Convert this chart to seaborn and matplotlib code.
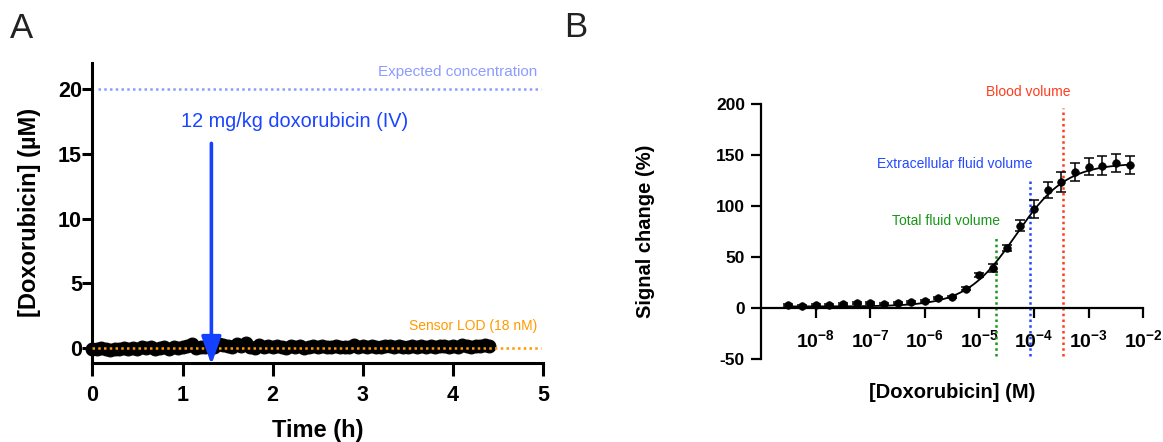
import numpy as np
import matplotlib
matplotlib.use('Agg')
import matplotlib.pyplot as plt
import seaborn as sns

sns.set_style('ticks')
plt.rcParams['font.family'] = ['Liberation Sans', 'DejaVu Sans']
plt.rcParams['axes.unicode_minus'] = False
plt.rcParams['mathtext.fontset'] = 'custom'
plt.rcParams['mathtext.rm'] = 'Liberation Sans'
plt.rcParams['mathtext.bf'] = 'Liberation Sans:bold'
for key in ['text.color', 'axes.labelcolor', 'xtick.color', 'ytick.color', 'axes.edgecolor']:
    plt.rcParams[key] = 'black'

# ---- panel A: in vivo trace ----
time_h = [0.00, 0.05, 0.10, 0.15, 0.20, 0.25, 0.30, 0.35, 0.40, 0.45,
          0.50, 0.55, 0.60, 0.65, 0.70, 0.75, 0.80, 0.85, 0.90, 0.95,
          1.00, 1.05, 1.10, 1.15, 1.20, 1.25, 1.30, 1.35, 1.40, 1.45,
          1.50, 1.55, 1.60, 1.65, 1.70, 1.75, 1.80, 1.85, 1.90, 1.95,
          2.00, 2.05, 2.10, 2.15, 2.20, 2.25, 2.30, 2.35, 2.40, 2.45,
          2.50, 2.55, 2.60, 2.65, 2.70, 2.75, 2.80, 2.85, 2.90, 2.95,
          3.00, 3.05, 3.10, 3.15, 3.20, 3.25, 3.30, 3.35, 3.40, 3.45,
          3.50, 3.55, 3.60, 3.65, 3.70, 3.75, 3.80, 3.85, 3.90, 3.95,
          4.00, 4.05, 4.10, 4.15, 4.20, 4.25, 4.30, 4.35, 4.40]
dox_um = [-0.05, -0.10, 0.02, -0.08, -0.12, -0.04, -0.09, 0.03, -0.06, -0.02,
          -0.07, 0.04, -0.03, 0.08, -0.05, 0.02, 0.06, -0.04, 0.05, 0.01,
          0.07, 0.12, 0.28, 0.03, 0.10, 0.05, 0.15, 0.08, 0.32, 0.22,
          0.12, 0.05, 0.30, 0.18, 0.35, 0.10, 0.02, 0.20, 0.08, 0.14,
          0.05, 0.18, 0.10, 0.03, 0.15, 0.08, 0.12, 0.00, 0.10, 0.16,
          0.06, 0.12, 0.09, 0.04, 0.14, 0.08, 0.11, 0.05, 0.20, 0.09,
          0.13, 0.07, 0.16, 0.10, 0.05, 0.12, 0.18, 0.08, 0.14, 0.10,
          0.06, 0.15, 0.11, 0.19, 0.09, 0.13, 0.07, 0.17, 0.12, 0.10,
          0.16, 0.11, 0.20, 0.14, 0.09, 0.18, 0.13, 0.21, 0.17]
expected_um = 20
lod_um = 0.018
injection_h = 1.32

# ---- panel B: calibration ----
log_conc = [-8.50, -8.25, -8.00, -7.75, -7.50, -7.25, -7.00, -6.75, -6.50,
            -6.25, -6.00, -5.75, -5.50, -5.25, -5.00, -4.75, -4.50, -4.25,
            -4.00, -3.75, -3.50, -3.25, -3.00, -2.75, -2.50, -2.25]
signal = [2.6, 2.0, 3.0, 3.0, 3.6, 4.6, 4.6, 4.0, 5.0, 6.0, 7.0, 10.0, 11.0,
          18.7, 32.0, 39.0, 59.0, 80.7, 97.0, 116.0, 123.6, 133.0, 138.7,
          139.7, 142.0, 140.3]
signal_err = [1.0, 1.0, 1.0, 1.0, 1.0, 1.0, 1.0, 1.0, 1.0, 1.0, 1.0, 1.0, 1.2,
              1.5, 2.0, 4.0, 3.0, 5.5, 9.0, 8.0, 10.0, 8.7, 8.5, 9.7, 8.5, 9.0]
# 4-parameter logistic fit
fit_bottom, fit_top, fit_logec50, fit_hill = 1.5, 142.0, -4.33, 0.95

volume_names = ['Total fluid volume', 'Extracellular fluid volume', 'Blood volume']
volume_logconc = [-4.69, -4.07, -3.47]
volume_top = [68.6, 124.8, 196.0]
volume_label_y = [84.9, 141.2, 212.0]
volume_label_right = [-4.62, -4.03, -3.33]
volume_colors = ['#18961a', '#2448ff', '#ff3c1e']

fig = plt.figure(figsize=(11.63, 4.42), dpi=100)

# ================= A =================
axA = fig.add_axes([0.0794, 0.1787, 0.4671 - 0.0794, 0.8581 - 0.1787])
sns.scatterplot(x=time_h, y=dox_um, ax=axA, color='black', s=85,
                edgecolor='black', linewidth=0.8, clip_on=False, zorder=3)
axA.plot([0, 4.97], [lod_um, lod_um], color='#ff9a00', lw=1.8,
         linestyle=(0, (1, 1.3)), zorder=4)
axA.plot([0.06, 4.97], [expected_um, expected_um], color='#8c9cff', lw=1.8,
         linestyle=(0, (1, 1.3)), zorder=2)
axA.text(4.93, 21.3, 'Expected concentration', color='#8c9cff', fontsize=11,
         ha='right', va='center')
axA.text(4.93, 1.67, 'Sensor LOD (18 nM)', color='#ff9a00', fontsize=10,
         ha='right', va='center')
axA.text(2.24, 17.5, '12 mg/kg doxorubicin (IV)', color='#1a44ff', fontsize=14.3,
         ha='center', va='center')
axA.annotate('', xy=(injection_h, -1.29), xytext=(injection_h, 15.8),
             arrowprops=dict(arrowstyle='-|>,head_length=1.7,head_width=0.6',
                             color='#1440ff', lw=2.6, shrinkA=0, shrinkB=0,
                             mutation_scale=10),
             annotation_clip=False, zorder=6)
axA.set_xlim(0, 5)
axA.set_ylim(-1.16, 22.03)
axA.set_xticks([0, 1, 2, 3, 4, 5])
axA.set_yticks([0, 5, 10, 15, 20])
axA.set_xlabel('Time (h)', fontsize=17, fontweight='bold', labelpad=9)
axA.set_ylabel('[Doxorubicin] (µM)', fontsize=17, fontweight='bold', labelpad=12)
for s in ['top', 'right']:
    axA.spines[s].set_visible(False)
for s in ['left', 'bottom']:
    axA.spines[s].set_linewidth(2.2)
axA.tick_params(axis='x', length=9, width=2.2, labelsize=15.5, pad=7)
axA.tick_params(axis='y', length=7, width=2.2, labelsize=15.5, pad=0.5)
for lab in axA.get_xticklabels() + axA.get_yticklabels():
    lab.set_fontweight('bold')

# ================= B =================
axB = fig.add_axes([0.6543, 0.1878, 0.9831 - 0.6543, 0.7647 - 0.1878])
conc = [10 ** v for v in log_conc]
fit_x = np.logspace(-8.5, -2.25, 300)
fit_y = fit_bottom + (fit_top - fit_bottom) / (1 + 10 ** ((fit_logec50 - np.log10(fit_x)) * fit_hill))
sns.lineplot(x=fit_x, y=fit_y, ax=axB, color='black', lw=1.3, zorder=3)
axB.errorbar(conc, signal, yerr=signal_err, fmt='none', ecolor='black',
             elinewidth=1.1, capsize=3.5, capthick=1.1, zorder=4)
sns.scatterplot(x=conc, y=signal, ax=axB, color='black', s=30,
                edgecolor='black', linewidth=0.5, zorder=5)
for name, lc, top, ly, lr, col in zip(volume_names, volume_logconc, volume_top,
                                      volume_label_y, volume_label_right, volume_colors):
    axB.plot([10 ** lc, 10 ** lc], [-46.8, top], color=col, lw=1.8,
             linestyle=(0, (1, 1.3)), zorder=2)
    axB.text(10 ** lr, ly, name, color=col, fontsize=10, ha='right', va='center')

axB.set_xscale('log')
axB.set_xlim(1e-9, 1e-2)
axB.set_ylim(-50, 200)
axB.set_yticks([-50, 0, 50, 100, 150, 200])
axB.set_xticks([1e-8, 1e-7, 1e-6, 1e-5, 1e-4, 1e-3, 1e-2])
axB.set_xticklabels([r'$\mathbf{10^{-8}}$', r'$\mathbf{10^{-7}}$', r'$\mathbf{10^{-6}}$',
                     r'$\mathbf{10^{-5}}$', r'$\mathbf{10^{-4}}$', r'$\mathbf{10^{-3}}$',
                     r'$\mathbf{10^{-2}}$'])
axB.minorticks_off()
axB.spines['bottom'].set_position(('data', 0))
for s in ['top', 'right']:
    axB.spines[s].set_visible(False)
for s in ['left', 'bottom']:
    axB.spines[s].set_linewidth(1.6)
axB.tick_params(axis='x', length=7, width=1.6, labelsize=14, pad=8)
axB.tick_params(axis='y', length=7, width=1.6, labelsize=12.5, pad=4.5)
for lab in axB.get_yticklabels():
    lab.set_fontweight('bold')
axB.set_xlabel('[Doxorubicin] (M)', fontsize=14.5, fontweight='bold')
axB.xaxis.set_label_coords(0.5, -0.094)
axB.set_ylabel('Signal change (%)', fontsize=14.5, fontweight='bold', labelpad=44)

fig.text(0.0086, 0.914, 'A', fontsize=25, color='#222222', va='baseline')
fig.text(0.485, 0.916, 'B', fontsize=25, color='#222222', va='baseline')

fig.savefig('out.png', dpi=100)
